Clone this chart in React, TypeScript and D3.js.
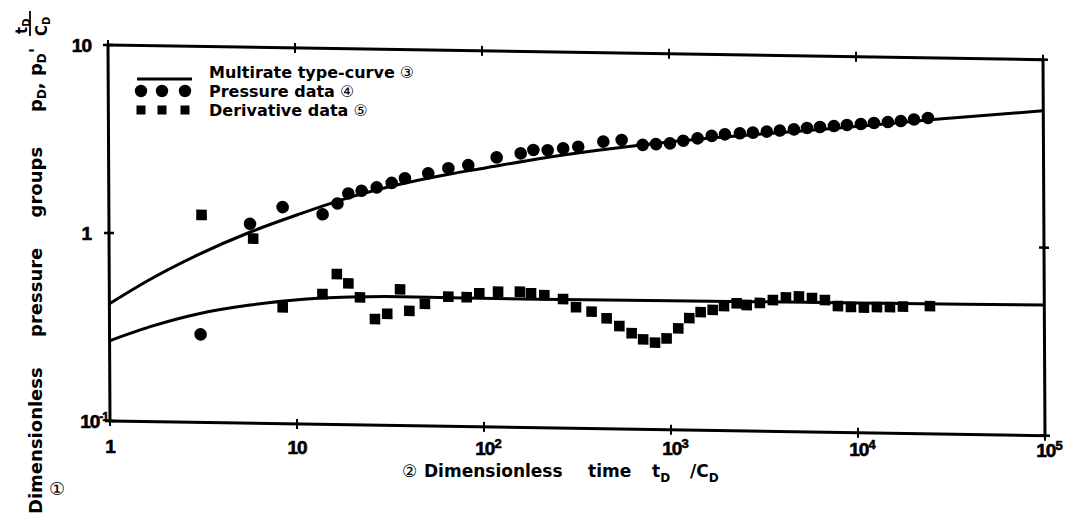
import React from "react";
import * as d3 from "d3";

// ---- data ----
const pressureT = [3.07, 5.68, 8.5, 13.9, 16.7, 19.1, 22.5, 27.1, 32.6, 38.4, 51.2, 65.6, 83.8, 119, 160, 187, 223, 270, 325, 443, 555, 719, 847, 1006, 1185, 1415, 1683, 1982, 2383, 2797, 3321, 3899, 4638, 5445, 6389, 7590, 8907, 10580, 12420, 14760, 17320, 20330, 24150];
const pressureV = [0.294, 1.15, 1.42, 1.31, 1.5, 1.7, 1.76, 1.84, 1.95, 2.07, 2.21, 2.36, 2.46, 2.72, 2.87, 3.0, 3.0, 3.08, 3.15, 3.37, 3.45, 3.26, 3.3, 3.34, 3.46, 3.57, 3.69, 3.77, 3.83, 3.87, 3.93, 3.99, 4.06, 4.14, 4.2, 4.26, 4.33, 4.39, 4.46, 4.52, 4.59, 4.69, 4.79];

const derivT = [3.13, 5.9, 8.45, 13.8, 16.5, 19.0, 21.9, 26.3, 30.6, 35.9, 40.2, 48.7, 65, 81.5, 95.2, 120, 157, 180, 212, 267, 313, 379, 456, 533, 620, 714, 826, 953, 1101, 1262, 1452, 1684, 1936, 2263, 2560, 3013, 3537, 4155, 4877, 5724, 6712, 7877, 9241, 10840, 12730, 14940, 17530, 24450];
const derivV = [1.27, 0.96, 0.416, 0.493, 0.632, 0.565, 0.477, 0.367, 0.392, 0.53, 0.408, 0.446, 0.489, 0.488, 0.513, 0.525, 0.527, 0.518, 0.508, 0.486, 0.441, 0.419, 0.387, 0.353, 0.324, 0.301, 0.29, 0.306, 0.347, 0.394, 0.425, 0.438, 0.46, 0.477, 0.468, 0.481, 0.5, 0.517, 0.525, 0.516, 0.505, 0.47, 0.466, 0.464, 0.468, 0.469, 0.473, 0.478];

const typeCurveT = [1, 1.65, 3, 5.7, 10.5, 19.4, 36, 67, 100, 200, 425, 1000, 2700, 10000, 25700, 100000];
const typeCurvePd = [0.42, 0.57, 0.78, 1.04, 1.31, 1.62, 1.92, 2.2, 2.37, 2.7, 3.04, 3.4, 3.76, 4.25, 4.7, 5.35];

const derivCurveT = [1, 1.65, 3.05, 5.65, 10.5, 19.4, 36, 66, 200, 1000, 2700, 10000, 100000];
const derivCurveV = [0.267, 0.32, 0.38, 0.425, 0.46, 0.478, 0.485, 0.483, 0.483, 0.486, 0.488, 0.49, 0.495];

const xTickValues = [1, 10, 100, 1000, 10000, 100000];
const xTickBase = ["1", "10", "10", "10", "10", "10"];
const xTickExp = ["", "", "2", "3", "4", "5"];
const yTickValues = [10, 1, 0.1];
const yTickBase = ["10", "1", "10"];
const yTickExp = ["", "", "-1"];

const legendLabels = ["Multirate type-curve", "Pressure data", "Derivative data"];
const legendMarks = ["③", "④", "⑤"];

const FONT = "'Liberation Sans', Arial, sans-serif";
const BOLD = "'DejaVu Sans', sans-serif";
const CIRC = "'DejaVu Sans', sans-serif";

export default function App() {
  const PW = 935;
  const PH = 376;
  const x = d3.scaleLog().domain([1, 1e5]).range([0, PW]);
  const y = d3.scaleLog().domain([0.1, 10]).range([PH, 0]);
  // slight scan rotation of the original figure
  const M = { a: 1, b: 0.0157, c: 0.0053, d: 1, e: 108, f: 45 };
  const sx = (u: number, w: number) => M.e + M.a * u + M.c * w;

  const line = d3
    .line<[number, number]>()
    .x((d) => x(d[0]))
    .y((d) => y(d[1]))
    .curve(d3.curveMonotoneX);

  const pdCurve = line(typeCurveT.map((t, i) => [t, typeCurvePd[i]] as [number, number]));
  const dCurve = line(derivCurveT.map((t, i) => [t, derivCurveV[i]] as [number, number]));

  const tick = 5;
  const legendY = [72, 91, 110];

  return (
    <svg
      width={1067}
      height={516}
      viewBox="0 0 1067 516"
      style={{ position: "absolute", left: 0, top: 0, background: "#fff" }}
    >
      <rect x={0} y={0} width={1067} height={516} fill="#fff" />
      <g transform={`matrix(${M.a},${M.b},${M.c},${M.d},${M.e},${M.f})`}>
        {/* frame */}
        <rect x={0} y={0} width={PW} height={PH} fill="none" stroke="#000" strokeWidth={3} />
        {xTickValues.map((v, i) => (
          <g key={"xt" + i}>
            <line x1={x(v)} x2={x(v)} y1={PH - tick} y2={PH + tick} stroke="#000" strokeWidth={2} />
            <line x1={x(v)} x2={x(v)} y1={-tick} y2={tick} stroke="#000" strokeWidth={2} />
          </g>
        ))}
        {yTickValues.map((v, i) => (
          <g key={"yt" + i}>
            <line x1={-tick} x2={tick} y1={y(v)} y2={y(v)} stroke="#000" strokeWidth={2.5} />
            <line x1={PW - tick} x2={PW + tick} y1={y(v)} y2={y(v)} stroke="#000" strokeWidth={2.5} />
          </g>
        ))}
        {/* type curves */}
        <path d={pdCurve || ""} fill="none" stroke="#000" strokeWidth={3} />
        <path d={dCurve || ""} fill="none" stroke="#000" strokeWidth={3} />
        {/* pressure data */}
        {pressureT.map((t, i) => (
          <circle key={"p" + i} cx={x(t)} cy={y(pressureV[i])} r={6.3} fill="#000" />
        ))}
        {/* derivative data */}
        {derivT.map((t, i) => (
          <rect key={"d" + i} x={x(t) - 5.3} y={y(derivV[i]) - 5.3} width={10.6} height={10.6} fill="#000" />
        ))}
      </g>

      {/* y tick labels */}
      {yTickValues.map((v, i) => {
        const yy = M.f + y(v);
        const isExp = yTickExp[i] !== "";
        return (
          <text
            key={"yl" + i}
            x={isExp ? 108 : 91}
            y={yy + 7}
            textAnchor="end"
            fontFamily={FONT}
            fontWeight="bold"
            fontSize={19}
            letterSpacing={-1}
            stroke="#000"
            strokeWidth={0.6}
          >
            {yTickBase[i]}
            {isExp && (
              <tspan fontSize={12} dy={-7}>
                {yTickExp[i]}
              </tspan>
            )}
          </text>
        );
      })}

      {/* x tick labels */}
      {xTickValues.map((v, i) => {
        const xx = sx(x(v), PH);
        const isExp = xTickExp[i] !== "";
        return (
          <text
            key={"xl" + i}
            x={xx + (isExp ? 4 : 0)}
            y={453 + (xx - 108) * 0.004}
            textAnchor="middle"
            fontFamily={FONT}
            fontWeight="bold"
            fontSize={19}
            letterSpacing={-1}
            stroke="#000"
            strokeWidth={0.6}
          >
            {xTickBase[i]}
            {isExp && (
              <tspan fontSize={13} dy={-7}>
                {xTickExp[i]}
              </tspan>
            )}
          </text>
        );
      })}

      {/* x axis title */}
      <text x={402} y={477} fontFamily={CIRC} fontSize={17}>②</text>
      <text x={424} y={477} fontFamily={BOLD} fontWeight="bold" fontSize={17}>Dimensionless</text>
      <text x={588} y={477} fontFamily={BOLD} fontWeight="bold" fontSize={17}>time</text>
      <text x={652} y={477} fontFamily={BOLD} fontWeight="bold" fontSize={17}>
        t<tspan fontSize={12} dy={5}>D</tspan>
      </text>
      <text x={690} y={477} fontFamily={BOLD} fontWeight="bold" fontSize={17}>
        /C<tspan fontSize={12} dy={5}>D</tspan>
      </text>

      {/* y axis title */}
      <g transform="translate(42,514) rotate(-90)">
        <text x={0} y={0} fontFamily={BOLD} fontWeight="bold" fontSize={18} wordSpacing={24}>
          Dimensionless pressure groups
        </text>
        <text x={402} y={0} fontFamily={BOLD} fontWeight="bold" fontSize={18}>
          p<tspan fontSize={12} dy={4}>D</tspan>
          <tspan dy={-4}>, p</tspan>
          <tspan fontSize={12} dy={4}>D</tspan>
          <tspan dy={-4}>'</tspan>
        </text>
        <text x={480} y={-15} fontFamily={BOLD} fontWeight="bold" fontSize={15}>
          t<tspan fontSize={10} dy={3}>D</tspan>
        </text>
        <line x1={478} x2={503} y1={-12} y2={-12} stroke="#000" strokeWidth={1.8} />
        <text x={478} y={5} fontFamily={BOLD} fontWeight="bold" fontSize={15}>
          C<tspan fontSize={10} dy={3}>D</tspan>
        </text>
      </g>
      <text x={49} y={495} fontFamily={CIRC} fontSize={18}>①</text>

      {/* legend */}
      <line x1={137} x2={192} y1={legendY[0] + 7} y2={legendY[0] + 7} stroke="#000" strokeWidth={3} />
      {[141, 162, 185].map((cx, i) => (
        <circle key={"lc" + i} cx={cx} cy={legendY[1]} r={6.2} fill="#000" />
      ))}
      {[141, 162, 185].map((cx, i) => (
        <rect key={"ls" + i} x={cx - 4.5} y={legendY[2] - 4.5} width={9} height={9} fill="#000" />
      ))}
      {legendLabels.map((lab, i) => (
        <text key={"lt" + i} x={209} y={legendY[i] + 6} fontFamily={BOLD} fontWeight="bold" fontSize={16}>
          {lab}
          <tspan fontFamily={CIRC} fontWeight="normal" fontSize={16}>{" " + legendMarks[i]}</tspan>
        </text>
      ))}
    </svg>
  );
}
